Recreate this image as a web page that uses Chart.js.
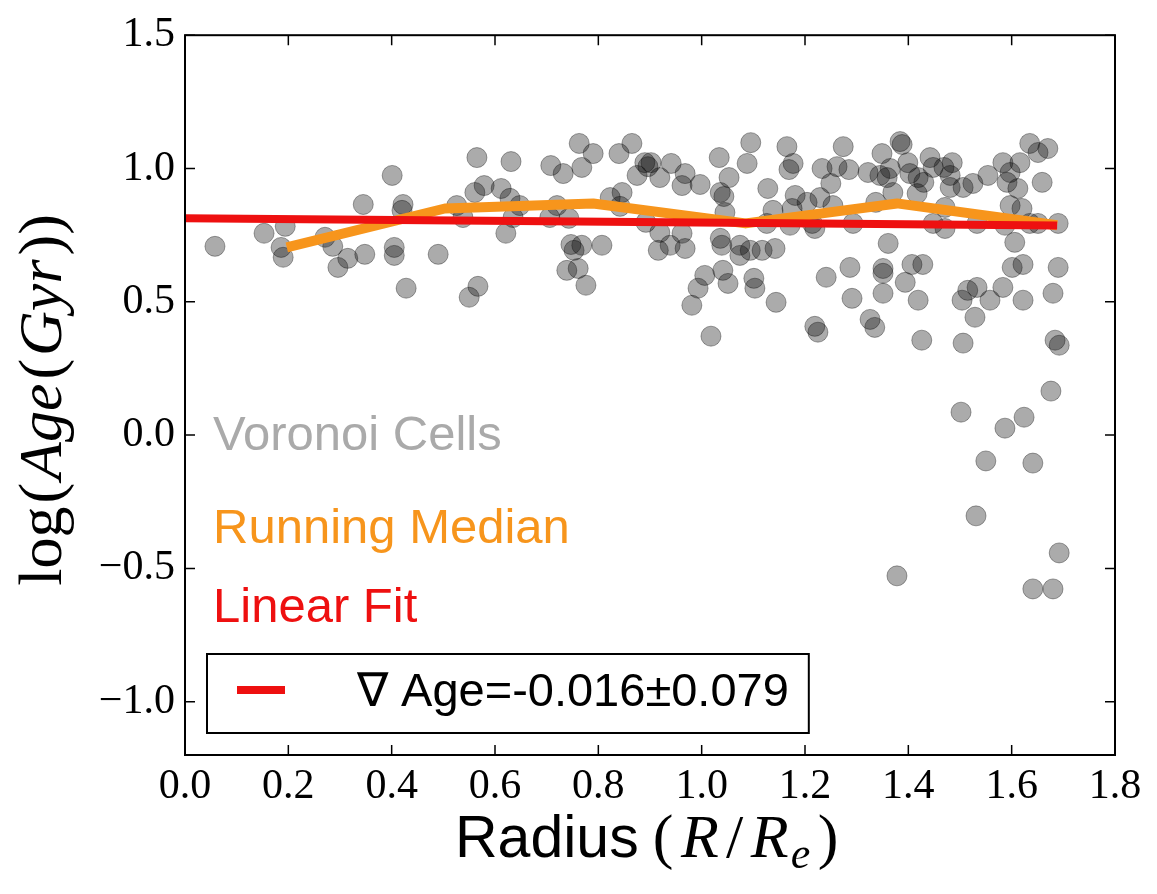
<!DOCTYPE html>
<html>
<head>
<meta charset="utf-8">
<script src="https://cdn.jsdelivr.net/npm/chart.js@4/dist/chart.umd.min.js"></script>
<style>
html,body{margin:0;padding:0;background:#fff;}
canvas{display:block;}
</style>
</head>
<body>
<canvas id="c" width="1157" height="894"></canvas>
<script>
// ---- data ----
const radius = [
0.058,0.153,0.194,0.186,0.190,0.271,0.286,0.296,0.315,0.348,0.345,0.401,0.422,0.420,0.405,0.405,0.428,0.490,
0.565,0.579,0.561,0.526,0.538,0.567,0.550,0.631,0.612,0.629,0.648,0.635,0.621,0.708,0.732,0.763,0.790,0.768,
0.720,0.706,0.743,0.747,0.753,0.768,0.807,0.739,0.761,0.776,0.840,0.865,0.823,0.846,0.842,0.890,0.896,0.902,
0.875,0.919,0.941,0.968,0.962,0.997,0.892,0.919,0.962,0.916,0.939,0.968,1.006,0.993,0.981,1.018,1.034,1.053,
1.036,1.043,1.045,1.036,1.039,1.041,1.051,1.074,1.074,1.094,1.117,1.142,1.101,1.103,1.144,1.095,1.088,1.128,
1.165,1.177,1.169,1.181,1.175,1.138,1.126,1.171,1.204,1.229,1.254,1.219,1.214,1.274,1.233,1.262,1.285,1.250,
1.322,1.293,1.349,1.384,1.388,1.345,1.365,1.359,1.370,1.337,1.399,1.403,1.419,1.430,1.417,1.442,1.448,1.469,
1.485,1.481,1.481,1.506,1.525,1.471,1.448,1.471,1.533,1.554,1.583,1.597,1.616,1.591,1.612,1.635,1.651,1.670,
1.659,1.597,1.620,1.587,1.635,1.651,1.690,1.606,1.361,1.241,1.287,1.351,1.351,1.351,1.291,1.394,1.407,1.428,
1.419,1.504,1.515,1.533,1.558,1.529,1.583,1.601,1.622,1.622,1.690,1.680,1.219,1.225,1.326,1.335,1.426,1.506,
1.684,1.692,1.676,1.502,1.624,1.587,1.550,1.641,1.531,1.692,1.378,1.641,1.680
];
const logAge = [
0.708,0.757,0.783,0.704,0.667,0.742,0.708,0.629,0.663,0.678,0.865,0.974,0.865,0.843,0.704,0.674,0.551,0.678,
1.041,0.936,0.910,0.861,0.816,0.558,0.517,1.026,0.925,0.888,0.861,0.816,0.757,1.011,0.981,1.094,1.056,1.004,
0.861,0.816,0.813,0.715,0.693,0.712,0.712,0.618,0.625,0.562,1.056,1.094,0.891,0.910,0.858,1.022,1.007,1.022,
0.974,0.966,1.019,0.981,0.936,0.940,0.798,0.760,0.757,0.693,0.712,0.700,0.599,0.551,0.487,0.371,1.041,0.966,
0.910,0.895,0.835,0.738,0.712,0.618,0.569,0.712,0.674,0.693,0.693,0.700,0.588,0.551,0.498,1.097,1.019,0.925,
1.082,1.019,0.996,0.899,0.850,0.843,0.794,0.787,0.873,0.891,0.861,0.775,0.794,1.082,1.000,1.007,0.996,0.944,
0.985,0.794,1.056,1.101,1.090,0.974,1.000,0.966,0.910,0.873,1.022,0.981,0.966,0.948,0.906,1.041,1.004,1.004,
1.022,0.974,0.929,0.929,0.944,0.854,0.794,0.775,0.794,0.974,1.022,0.985,1.022,0.948,0.925,1.094,1.060,1.075,
0.948,0.861,0.850,0.787,0.794,0.794,0.794,0.723,0.719,0.592,0.629,0.625,0.607,0.532,0.513,0.573,0.640,0.640,
0.506,0.506,0.543,0.554,0.506,0.442,0.554,0.629,0.640,0.506,0.629,0.532,0.408,0.386,0.434,0.404,0.356,0.345,
0.356,0.337,0.165,0.086,0.067,0.026,-0.097,-0.105,-0.303,-0.442,-0.528,-0.577,-0.577
];
const medianRadius = [0.197, 0.503, 0.790, 1.085, 1.378, 1.688];
const medianAge    = [0.704, 0.850, 0.869, 0.794, 0.869, 0.787];
const fitRadius = [0.0, 1.688];
const fitAge    = [0.813, 0.786];
const xTicks = [0.0, 0.2, 0.4, 0.6, 0.8, 1.0, 1.2, 1.4, 1.6, 1.8];
const yTicks = [-1.0, -0.5, 0.0, 0.5, 1.0, 1.5];
const fitLabel = '\u2207 Age=-0.016\u00b10.079';

const ORANGE = '#f7951c';
const RED = '#ee1010';
const GRAY_TXT = '#aaaaaa';
const SERIF = '"Liberation Serif", "DejaVu Serif", serif';
const SANS = '"Liberation Sans", Arial, sans-serif';

const pts = radius.map((r, i) => ({x: r, y: logAge[i]}));
const med = medianRadius.map((r, i) => ({x: r, y: medianAge[i]}));
const fit = fitRadius.map((r, i) => ({x: r, y: fitAge[i]}));

function fmt(v){ const s = Math.abs(v).toFixed(1); return v < -1e-9 ? '\u2212' + s : s; }

const deco = {
  id: 'deco',
  afterDatasetsDraw(chart) {
    const {ctx, chartArea: a, scales} = chart;
    const x = scales.x, y = scales.y;
    ctx.save();
    // frame
    ctx.strokeStyle = '#000';
    ctx.lineWidth = 2;
    ctx.strokeRect(a.left, a.top, a.right - a.left, a.bottom - a.top);
    // inward ticks
    ctx.lineWidth = 1.5;
    ctx.beginPath();
    xTicks.forEach(v => {
      const p = x.getPixelForValue(v);
      ctx.moveTo(p, a.bottom); ctx.lineTo(p, a.bottom - 10);
      ctx.moveTo(p, a.top); ctx.lineTo(p, a.top + 10);
    });
    yTicks.forEach(v => {
      const p = y.getPixelForValue(v);
      ctx.moveTo(a.left, p); ctx.lineTo(a.left + 10, p);
      ctx.moveTo(a.right, p); ctx.lineTo(a.right - 10, p);
    });
    ctx.stroke();

    // annotation texts
    ctx.font = '49px ' + SANS;
    ctx.textBaseline = 'alphabetic';
    ctx.textAlign = 'left';
    ctx.fillStyle = GRAY_TXT;
    ctx.fillText('Voronoi Cells', a.left + 28, 450);
    ctx.fillStyle = ORANGE;
    ctx.fillText('Running Median', a.left + 28, 543);
    ctx.fillStyle = RED;
    ctx.fillText('Linear Fit', a.left + 28, 622);

    // legend box
    ctx.font = '47px ' + SANS;
    const tw = ctx.measureText(fitLabel).width;
    const bx = a.left + 22, bh = 79, by = a.bottom - 22 - bh;
    const bw = 150 + tw + 20;
    ctx.fillStyle = '#fff';
    ctx.fillRect(bx, by, bw, bh);
    ctx.strokeStyle = '#000';
    ctx.lineWidth = 2;
    ctx.strokeRect(bx, by, bw, bh);
    ctx.strokeStyle = RED;
    ctx.lineWidth = 8;
    ctx.beginPath();
    ctx.moveTo(bx + 30, by + 36); ctx.lineTo(bx + 78, by + 36);
    ctx.stroke();
    ctx.fillStyle = '#000';
    ctx.fillText(fitLabel, bx + 150, by + 52);
    ctx.restore();
  },
  afterDraw(chart) {
    const {ctx, chartArea: a} = chart;
    ctx.save();
    // x title: "Radius (R/R_e)"
    const segs = [
      {t: 'Radius', f: '59px ' + SANS, dy: 0, sp: 18},
      {t: '(', f: '62px ' + SERIF, dy: 0, sp: 8},
      {t: 'R', f: 'italic 62px ' + SERIF, dy: 0, sp: 8},
      {t: '/', f: '62px ' + SERIF, dy: 0, sp: 8},
      {t: 'R', f: 'italic 62px ' + SERIF, dy: 0, sp: 3},
      {t: 'e', f: 'italic 44px ' + SERIF, dy: 11, sp: 8},
      {t: ')', f: '62px ' + SERIF, dy: 0, sp: 0}
    ];
    let total = 0;
    segs.forEach(s => { ctx.font = s.f; s.w = ctx.measureText(s.t).width; total += s.w + s.sp; });
    let cx = 455;
    const scale = (838 - 455) / total;
    ctx.fillStyle = '#000';
    ctx.textBaseline = 'alphabetic';
    ctx.textAlign = 'left';
    segs.forEach(s => { ctx.font = s.f; ctx.fillText(s.t, cx, 857 + s.dy); cx += (s.w + s.sp) * scale; });

    // y title: "log(Age(Gyr))"
    const ys = [
      {t: 'log', f: '62px ' + SERIF, sp: 3},
      {t: '(', f: '62px ' + SERIF, sp: 3},
      {t: 'Age', f: 'italic 62px ' + SERIF, sp: 4},
      {t: '(', f: '62px ' + SERIF, sp: 3},
      {t: 'Gyr', f: 'italic 62px ' + SERIF, sp: 4},
      {t: '))', f: '62px ' + SERIF, sp: 0}
    ];
    let ytot = 0;
    ys.forEach(s => { ctx.font = s.f; s.w = ctx.measureText(s.t).width; ytot += s.w + s.sp; });
    ctx.translate(61, 400);
    ctx.rotate(-Math.PI / 2);
    let yx = -ytot / 2;
    ys.forEach(s => { ctx.font = s.f; ctx.fillText(s.t, yx, 0); yx += s.w + s.sp; });
    ctx.restore();
  }
};

new Chart(document.getElementById('c'), {
  type: 'scatter',
  data: {
    datasets: [
      {
        label: 'Voronoi Cells',
        data: pts,
        pointRadius: 10,
        pointHoverRadius: 10,
        backgroundColor: 'rgba(0,0,0,0.33)',
        borderColor: 'rgba(0,0,0,0.35)',
        borderWidth: 1,
        order: 3
      },
      {
        label: 'Running Median',
        type: 'line',
        data: med,
        showLine: true,
        borderColor: ORANGE,
        borderWidth: 10,
        pointRadius: 0,
        tension: 0,
        fill: false,
        borderJoinStyle: 'round',
        order: 2
      },
      {
        label: fitLabel,
        type: 'line',
        data: fit,
        showLine: true,
        borderColor: RED,
        borderWidth: 8,
        pointRadius: 0,
        fill: false,
        order: 1
      }
    ]
  },
  options: {
    responsive: false,
    animation: false,
    layout: {padding: {left: 0, top: 35, right: 42, bottom: 0}},
    plugins: {legend: {display: false}, tooltip: {enabled: false}},
    scales: {
      x: {
        type: 'linear',
        min: 0, max: 1.8,
        afterBuildTicks: s => { s.ticks = xTicks.map(v => ({value: v})); },
        afterFit: s => { s.height = 139; },
        grid: {display: false, drawTicks: false},
        border: {display: false},
        ticks: {
          color: '#000', padding: 7, maxRotation: 0, autoSkip: false,
          font: {family: SERIF, size: 42},
          callback: v => fmt(v)
        }
      },
      y: {
        type: 'linear',
        min: -1.2, max: 1.5,
        afterBuildTicks: s => { s.ticks = yTicks.map(v => ({value: v})); },
        afterFit: s => { s.width = 185; },
        grid: {display: false, drawTicks: false},
        border: {display: false},
        ticks: {
          color: '#000', padding: 10, autoSkip: false,
          font: {family: SERIF, size: 42},
          callback: v => fmt(v)
        }
      }
    }
  },
  plugins: [deco]
});
</script>
</body>
</html>
